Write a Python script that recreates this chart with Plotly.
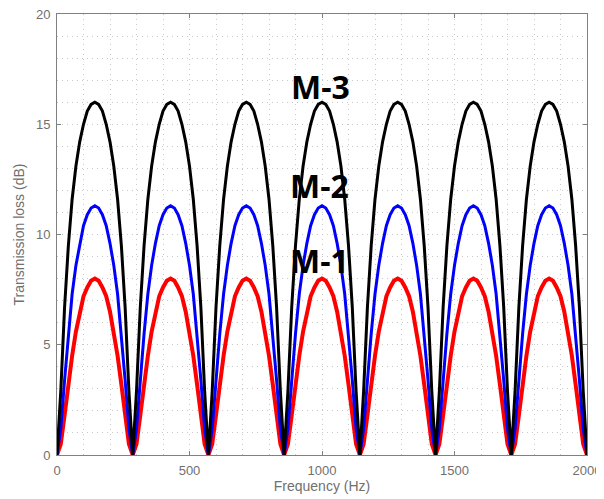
import plotly.graph_objects as go

# frequency axis (Hz), 20 samples per arch, 7 arches over 0-2000 Hz
freq = [
    0.0, 14.3, 28.6, 42.9, 57.1, 71.4, 85.7, 100.0, 114.3, 128.6,
    142.9, 157.1, 171.4, 185.7, 200.0, 214.3, 228.6, 242.9, 257.1, 271.4,
    285.7, 300.0, 314.3, 328.6, 342.9, 357.1, 371.4, 385.7, 400.0, 414.3,
    428.6, 442.9, 457.1, 471.4, 485.7, 500.0, 514.3, 528.6, 542.9, 557.1,
    571.4, 585.7, 600.0, 614.3, 628.6, 642.9, 657.1, 671.4, 685.7, 700.0,
    714.3, 728.6, 742.9, 757.1, 771.4, 785.7, 800.0, 814.3, 828.6, 842.9,
    857.1, 871.4, 885.7, 900.0, 914.3, 928.6, 942.9, 957.1, 971.4, 985.7,
    1000.0, 1014.3, 1028.6, 1042.9, 1057.1, 1071.4, 1085.7, 1100.0, 1114.3, 1128.6,
    1142.9, 1157.1, 1171.4, 1185.7, 1200.0, 1214.3, 1228.6, 1242.9, 1257.1, 1271.4,
    1285.7, 1300.0, 1314.3, 1328.6, 1342.9, 1357.1, 1371.4, 1385.7, 1400.0, 1414.3,
    1428.6, 1442.9, 1457.1, 1471.4, 1485.7, 1500.0, 1514.3, 1528.6, 1542.9, 1557.1,
    1571.4, 1585.7, 1600.0, 1614.3, 1628.6, 1642.9, 1657.1, 1671.4, 1685.7, 1700.0,
    1714.3, 1728.6, 1742.9, 1757.1, 1771.4, 1785.7, 1800.0, 1814.3, 1828.6, 1842.9,
    1857.1, 1871.4, 1885.7, 1900.0, 1914.3, 1928.6, 1942.9, 1957.1, 1971.4, 1985.7,
    2000.0,
]

# transmission loss (dB)
tl_m3 = [
    0, 2.9, 6.7, 9.5, 11.6, 13.1, 14.2, 15.0, 15.6, 15.9, 16.0, 15.9, 15.6, 15.0, 14.2, 13.1, 11.6, 9.5, 6.7, 2.9,
    0, 2.9, 6.7, 9.5, 11.6, 13.1, 14.2, 15.0, 15.6, 15.9, 16.0, 15.9, 15.6, 15.0, 14.2, 13.1, 11.6, 9.5, 6.7, 2.9,
    0, 2.9, 6.7, 9.5, 11.6, 13.1, 14.2, 15.0, 15.6, 15.9, 16.0, 15.9, 15.6, 15.0, 14.2, 13.1, 11.6, 9.5, 6.7, 2.9,
    0, 2.9, 6.7, 9.5, 11.6, 13.1, 14.2, 15.0, 15.6, 15.9, 16.0, 15.9, 15.6, 15.0, 14.2, 13.1, 11.6, 9.5, 6.7, 2.9,
    0, 2.9, 6.7, 9.5, 11.6, 13.1, 14.2, 15.0, 15.6, 15.9, 16.0, 15.9, 15.6, 15.0, 14.2, 13.1, 11.6, 9.5, 6.7, 2.9,
    0, 2.9, 6.7, 9.5, 11.6, 13.1, 14.2, 15.0, 15.6, 15.9, 16.0, 15.9, 15.6, 15.0, 14.2, 13.1, 11.6, 9.5, 6.7, 2.9,
    0, 2.9, 6.7, 9.5, 11.6, 13.1, 14.2, 15.0, 15.6, 15.9, 16.0, 15.9, 15.6, 15.0, 14.2, 13.1, 11.6, 9.5, 6.7, 2.9,
    0,
]
tl_m2 = [
    0, 1.2, 3.4, 5.5, 7.3, 8.6, 9.6, 10.4, 10.9, 11.2, 11.3, 11.2, 10.9, 10.4, 9.6, 8.6, 7.3, 5.5, 3.4, 1.2,
    0, 1.2, 3.4, 5.5, 7.3, 8.6, 9.6, 10.4, 10.9, 11.2, 11.3, 11.2, 10.9, 10.4, 9.6, 8.6, 7.3, 5.5, 3.4, 1.2,
    0, 1.2, 3.4, 5.5, 7.3, 8.6, 9.6, 10.4, 10.9, 11.2, 11.3, 11.2, 10.9, 10.4, 9.6, 8.6, 7.3, 5.5, 3.4, 1.2,
    0, 1.2, 3.4, 5.5, 7.3, 8.6, 9.6, 10.4, 10.9, 11.2, 11.3, 11.2, 10.9, 10.4, 9.6, 8.6, 7.3, 5.5, 3.4, 1.2,
    0, 1.2, 3.4, 5.5, 7.3, 8.6, 9.6, 10.4, 10.9, 11.2, 11.3, 11.2, 10.9, 10.4, 9.6, 8.6, 7.3, 5.5, 3.4, 1.2,
    0, 1.2, 3.4, 5.5, 7.3, 8.6, 9.6, 10.4, 10.9, 11.2, 11.3, 11.2, 10.9, 10.4, 9.6, 8.6, 7.3, 5.5, 3.4, 1.2,
    0, 1.2, 3.4, 5.5, 7.3, 8.6, 9.6, 10.4, 10.9, 11.2, 11.3, 11.2, 10.9, 10.4, 9.6, 8.6, 7.3, 5.5, 3.4, 1.2,
    0,
]
tl_m1 = [
    0, 0.5, 1.8, 3.2, 4.5, 5.6, 6.5, 7.2, 7.6, 7.9, 8.0, 7.9, 7.6, 7.2, 6.5, 5.6, 4.5, 3.2, 1.8, 0.5,
    0, 0.5, 1.8, 3.2, 4.5, 5.6, 6.5, 7.2, 7.6, 7.9, 8.0, 7.9, 7.6, 7.2, 6.5, 5.6, 4.5, 3.2, 1.8, 0.5,
    0, 0.5, 1.8, 3.2, 4.5, 5.6, 6.5, 7.2, 7.6, 7.9, 8.0, 7.9, 7.6, 7.2, 6.5, 5.6, 4.5, 3.2, 1.8, 0.5,
    0, 0.5, 1.8, 3.2, 4.5, 5.6, 6.5, 7.2, 7.6, 7.9, 8.0, 7.9, 7.6, 7.2, 6.5, 5.6, 4.5, 3.2, 1.8, 0.5,
    0, 0.5, 1.8, 3.2, 4.5, 5.6, 6.5, 7.2, 7.6, 7.9, 8.0, 7.9, 7.6, 7.2, 6.5, 5.6, 4.5, 3.2, 1.8, 0.5,
    0, 0.5, 1.8, 3.2, 4.5, 5.6, 6.5, 7.2, 7.6, 7.9, 8.0, 7.9, 7.6, 7.2, 6.5, 5.6, 4.5, 3.2, 1.8, 0.5,
    0, 0.5, 1.8, 3.2, 4.5, 5.6, 6.5, 7.2, 7.6, 7.9, 8.0, 7.9, 7.6, 7.2, 6.5, 5.6, 4.5, 3.2, 1.8, 0.5,
    0,
]

labels = ["M-1", "M-2", "M-3"]
label_x = [990, 990, 995]
label_y = [8.8, 12.2, 16.7]

fig = go.Figure()
fig.add_trace(go.Scatter(x=freq, y=tl_m1, mode="lines", line=dict(color="red", width=4), name="M-1"))
fig.add_trace(go.Scatter(x=freq, y=tl_m2, mode="lines", line=dict(color="blue", width=3), name="M-2"))
fig.add_trace(go.Scatter(x=freq, y=tl_m3, mode="lines", line=dict(color="black", width=3), name="M-3"))

for t, lx, ly in zip(labels, label_x, label_y):
    fig.add_annotation(x=lx, y=ly, text="<b>" + t + "</b>", showarrow=False,
                       font=dict(family="Open Sans", size=32, color="black"))

grid_dash = "1px,4px"
axis_style = dict(showline=True, linecolor="#808080", linewidth=1, mirror="allticks",
                  ticks="inside", ticklen=4, tickcolor="#808080", automargin=False,
                  ticklabeloverflow="allow",
                  showgrid=True, gridcolor="#c8c8c8", griddash=grid_dash, gridwidth=1,
                  zeroline=False, tickfont=dict(color="#707070", size=13),
                  title_font=dict(color="#707070", size=14))

fig.update_xaxes(range=[0, 2000], tick0=0, dtick=500, title_text="Frequency (Hz)", title_standoff=2,
                 ticklabelstandoff=3,
                 minor=dict(dtick=100, showgrid=True, gridcolor="#c8c8c8", griddash=grid_dash, ticks=""),
                 **axis_style)
fig.update_yaxes(range=[0, 20], tick0=0, dtick=5, title_text="Transmission loss (dB)", title_standoff=8,
                 ticklabelstandoff=3,
                 minor=dict(dtick=1, showgrid=True, gridcolor="#c8c8c8", griddash=grid_dash, ticks=""),
                 **axis_style)

# page body adds an 8px offset, margins compensate for it
fig.update_layout(width=604, height=499, showlegend=False,
                  margin=dict(l=49, r=25, t=6, b=52),
                  plot_bgcolor="white", paper_bgcolor="white",
                  font=dict(family="Liberation Sans, Arial, sans-serif"))

fig.write_html("out.html")
